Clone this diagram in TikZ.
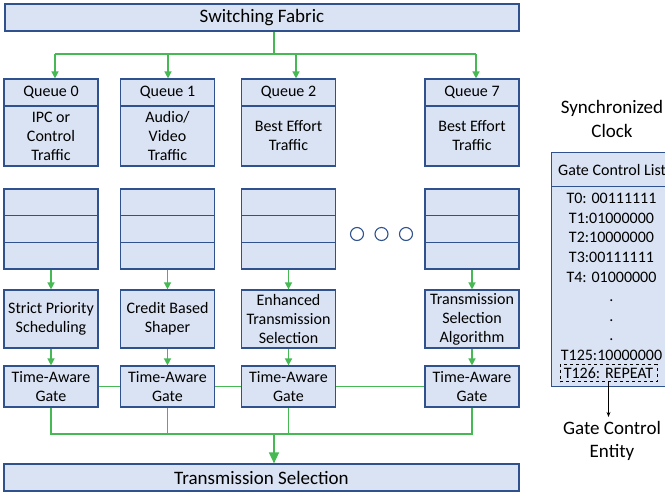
\documentclass[tikz,border=0pt]{standalone}
\usepackage{fontspec}
\setmainfont{Carlito}
\usetikzlibrary{arrows.meta}
\definecolor{boxfill}{RGB}{218,227,243}
\definecolor{boxline}{RGB}{47,82,143}
\definecolor{arrowgreen}{RGB}{70,185,85}
\begin{document}
\begin{tikzpicture}[x=1pt,y=-1pt,
  box/.style={draw=boxline, fill=boxfill, line width=1.2pt, inner sep=0pt, align=center,
    font=\fontsize{16}{19}\selectfont, minimum width=94pt},
  bigbox/.style={box, font=\fontsize{19}{23}\selectfont, minimum height=27pt},
  hdr/.style={box, minimum height=27pt},
  qbody/.style={box, minimum height=60pt},
  cell/.style={box, minimum height=26.67pt},
  algo/.style={box, minimum height=58pt},
  gatebox/.style={box, minimum height=41pt},
  gline/.style={draw=arrowgreen, line width=1.5pt},
  garrow/.style={gline, -{Triangle[length=7pt,width=7pt]}},
  bigarrow/.style={gline, -{Triangle[length=11pt,width=10pt]}},
  dotc/.style={circle, draw=boxline, line width=1.1pt, minimum size=13pt, inner sep=0pt},
  plaintext/.style={align=center, inner sep=0pt, font=\fontsize{19}{23.5}\selectfont},
  listtext/.style={align=center, inner sep=0pt, font=\fontsize{16}{19.6}\selectfont},
  dashbox/.style={draw=black, dashed, line width=0.8pt, inner sep=0pt, minimum width=97pt,
    minimum height=17pt, font=\fontsize{16}{19}\selectfont}
]
\useasboundingbox (0,0) rectangle (665,493);

% top and bottom bars
\node[bigbox, minimum width=514pt] (fabric) at (262,17.5) {Switching Fabric};
\node[bigbox, minimum width=515pt] (ts) at (261.5,477.5) {Transmission Selection};

% queues
\node[hdr] (q0h) at (51,92.5) {Queue 0};
\node[qbody] (q0b) at (51,136) {IPC or\\Control\\Traffic};
\node[hdr] (q1h) at (167.5,92.5) {Queue 1};
\node[qbody] (q1b) at (167.5,136) {Audio/\\Video\\Traffic};
\node[hdr] (q2h) at (288.5,92.5) {Queue 2};
\node[qbody] (q2b) at (288.5,136) {Best Effort\\Traffic};
\node[hdr] (q7h) at (472,92.5) {Queue 7};
\node[qbody] (q7b) at (472,136) {Best Effort\\Traffic};

% stacks
\foreach \n/\x in {0/51,1/167.5,2/288.5,7/472}{
  \node[cell] (s\n a) at (\x,202.33) {};
  \node[cell] (s\n b) at (\x,229) {};
  \node[cell] (s\n c) at (\x,255.67) {};
}

% dots
\node[dotc] (d1) at (357,234) {};
\node[dotc] (d2) at (381.5,234) {};
\node[dotc] (d3) at (406,234) {};

% algorithms
\node[algo] (a0) at (51,319) {Strict Priority\\Scheduling};
\node[algo] (a1) at (167.5,319) {Credit Based\\Shaper};
\node[algo] (a2) at (288.5,319) {Enhanced\\Transmission\\Selection};
\node[algo] (a7) at (472,319) {Transmission\\Selection\\Algorithm};

% gates
\node[gatebox] (g0) at (51,386.5) {Time-Aware\\Gate};
\node[gatebox] (g1) at (167.5,386.5) {Time-Aware\\Gate};
\node[gatebox] (g2) at (288.5,386.5) {Time-Aware\\Gate};
\node[gatebox] (g7) at (472,386.5) {Time-Aware\\Gate};

% fabric distribution
\coordinate (fb) at (274,54);
\coordinate (t0) at (55,54);
\coordinate (t1) at (168,54);
\coordinate (t2) at (296,54);
\coordinate (t7) at (476,54);
\draw[gline] (fabric.south -| fb) -- (fb);
\draw[gline] (t0) -- (t7);
\draw[garrow] (t0) -- (t0 |- q0h.north);
\draw[garrow] (t1) -- (t1 |- q1h.north);
\draw[garrow] (t2) -- (t2 |- q2h.north);
\draw[garrow] (t7) -- (t7 |- q7h.north);

% stack -> algo -> gate
\foreach \n in {0,1,2,7}{
  \draw[garrow] (s\n c.south) -- (a\n.north);
  \draw[garrow] (a\n.south) -- (g\n.north);
}

% gate interconnect
\draw[gline] (g0.east) -- (g1.west);
\draw[gline] (g1.east) -- (g2.west);
\draw[gline] (g2.east) -- (g7.west);

% merge to transmission selection
\coordinate (m) at (274,434);
\draw[gline] (g0.south) -- (g0.south |- m) -- (g7.south |- m) -- (g7.south);
\draw[gline] (g1.south) -- (g1.south |- m);
\draw[gline] (g2.south) -- (g2.south |- m);
\draw[bigarrow] (m) -- (m |- ts.north);

% right panel
\node[plaintext] (sync) at (612,119) {Synchronized\\Clock};
\node[box, minimum width=121pt, minimum height=34pt, anchor=north west] (gclh) at (551,152) {Gate Control List};
\node[box, minimum width=121pt, minimum height=200pt, anchor=north west] (gclb) at (551,186) {};
\node[listtext] (gcll) at (611.5,277) {T0: 00111111\\T1:01000000\\T2:10000000\\T3:00111111\\T4: 01000000\\.\\.\\.\\T125:10000000};
\node[dashbox] (t126) at (608.5,373) {T126: REPEAT};
\node[plaintext] (gce) at (612,441) {Gate Control\\Entity};
\draw[-{Stealth[length=5pt,width=4pt]}, line width=0.8pt] (t126.south) -- ([yshift=4pt]gce.north -| t126.south);
\end{tikzpicture}
\end{document}
